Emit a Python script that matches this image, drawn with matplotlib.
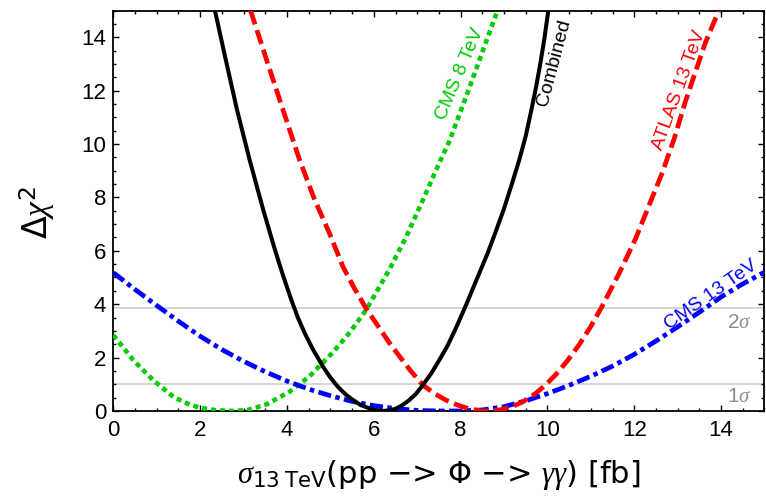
import matplotlib
matplotlib.use("Agg")
import matplotlib.pyplot as plt
from matplotlib.ticker import MultipleLocator

plt.rcParams['font.family'] = ['Liberation Sans', 'DejaVu Sans']
plt.rcParams['mathtext.fontset'] = 'custom'
plt.rcParams['mathtext.it'] = 'Liberation Serif:italic'
plt.rcParams['mathtext.rm'] = 'DejaVu Sans'
plt.rcParams['lines.scale_dashes'] = False

# Combined (black)
comb_x = [2.34, 2.59, 2.85, 3.14, 3.45, 3.72, 3.90, 4.10, 4.25, 4.41, 4.60, 4.83, 5.00, 5.17, 5.35, 5.52, 5.70, 5.90,
          6.05, 6.20, 6.35, 6.50, 6.66, 6.82, 6.98, 7.13, 7.32, 7.51, 7.70, 7.89, 8.12, 8.35, 8.62, 8.80, 9.00, 9.18,
          9.35, 9.50, 9.62, 9.74, 9.84, 9.93, 10.02]
comb_y = [15.0, 13.15, 11.27, 9.4, 7.55, 6.05, 5.12, 4.16, 3.5, 2.91, 2.3, 1.66, 1.25, 0.91, 0.62, 0.41, 0.22, 0.10,
          0.03, 0.0, 0.02, 0.08, 0.22, 0.41, 0.66, 0.97, 1.4, 1.91, 2.45, 3.1, 3.95, 4.85, 5.9, 6.68, 7.58, 8.5,
          9.4, 10.3, 11.2, 12.15, 13.05, 13.95, 15.0]

# ATLAS 13 TeV (red)
atl_x = [3.16, 3.53, 3.91, 4.29, 4.64, 4.98, 5.29, 5.55, 5.82, 6.13, 6.36, 6.59, 6.85, 7.13, 7.40, 7.66, 7.93, 8.20,
         8.45, 8.66, 8.90, 9.20, 9.45, 9.73, 9.96, 10.19, 10.45, 10.73, 11.00, 11.26, 11.65, 12.03, 12.34, 12.64,
         12.92, 13.18, 13.42, 13.64, 13.95]
atl_y = [15.0, 13.15, 11.27, 9.4, 7.9, 6.65, 5.4, 4.6, 3.85, 3.1, 2.55, 2.05, 1.5, 0.97, 0.65, 0.41, 0.22, 0.08,
         0.01, 0.0, 0.04, 0.17, 0.36, 0.66, 0.98, 1.36, 1.86, 2.48, 3.17, 3.92, 5.15, 6.45, 7.7, 8.9,
         10.2, 11.6, 12.75, 13.8, 15.0]

# CMS 8 TeV (green)
c8_x = [0.0, 0.46, 0.92, 1.38, 1.70, 1.99, 2.40, 2.76, 3.10, 3.53, 4.06, 4.52, 5.06, 5.45, 5.82, 6.36, 6.74, 7.13,
        7.51, 7.74, 8.20, 8.58, 8.85]
c8_y = [2.84, 1.9, 1.15, 0.53, 0.28, 0.12, 0.02, 0.0, 0.04, 0.25, 0.72, 1.3, 2.2, 2.95, 3.78, 5.3, 6.5, 7.9,
        9.3, 10.1, 12.1, 13.8, 15.0]

# CMS 13 TeV (blue)
c13_x = [0.0, 0.5, 1.0, 1.5, 2.0, 2.5, 3.0, 3.5, 4.0, 4.5, 5.0, 5.5, 6.0, 6.5, 7.0, 7.5, 8.0, 8.5, 9.0, 9.5,
         10.0, 10.5, 11.0, 11.5, 12.0, 12.5, 13.0, 13.5, 14.0, 14.5, 15.0]
c13_y = [5.18, 4.55, 3.95, 3.36, 2.8, 2.3, 1.86, 1.47, 1.12, 0.82, 0.57, 0.36, 0.2, 0.09, 0.02, 0.0, 0.0, 0.04,
         0.16, 0.38, 0.65, 0.96, 1.3, 1.68, 2.12, 2.62, 3.15, 3.7, 4.27, 4.76, 5.2]

sigma_levels = [1.0, 3.84]
sigma_labels = [r'1$\sigma$', r'2$\sigma$']

fig = plt.figure(figsize=(7.66, 4.99), dpi=100)
ax = fig.add_axes([0.148, 0.1764, 0.850, 0.8025])

for lv in sigma_levels:
    ax.axhline(lv, color='#d2d2d2', lw=1.3, zorder=1)

ax.plot(c8_x, c8_y, color='#00cc00', lw=3.3, linestyle=(0, (3.6, 2.9)), zorder=3)
ax.plot(c13_x, c13_y, color='#0000ff', lw=3.4, linestyle=(0, (9.5, 3.2, 3.2, 3.2)), zorder=3)
ax.plot(atl_x, atl_y, color='#ff0000', lw=3.4, linestyle=(0, (10.5, 4.3)), zorder=3)
ax.plot(comb_x, comb_y, color='black', lw=2.9, zorder=4, solid_joinstyle='round')

tk = dict(fontsize=14, ha='center', va='center', rotation_mode='anchor')
ax.text(7.99, 12.62, 'CMS 8 TeV', color='#00cc00', rotation=67, **tk)
ax.text(10.15, 13.03, 'Combined', color='black', rotation=75, **tk)
ax.text(13.03, 12.02, 'ATLAS 13 TeV', color='#ff0000', rotation=70, **tk)
ax.text(13.76, 4.34, 'CMS 13 TeV', color='#0000ff', rotation=35, **tk)

ax.text(14.41, 3.33, sigma_labels[1], color='#8c8c8c', fontsize=15, ha='center', va='center')
ax.text(14.41, 0.56, sigma_labels[0], color='#8c8c8c', fontsize=15, ha='center', va='center')

ax.set_xlim(0, 15)
ax.set_ylim(0, 15)
ax.xaxis.set_major_locator(MultipleLocator(2))
ax.xaxis.set_minor_locator(MultipleLocator(0.5))
ax.yaxis.set_major_locator(MultipleLocator(2))
ax.yaxis.set_minor_locator(MultipleLocator(0.5))
ax.tick_params(which='both', direction='in', top=True, right=True, labeltop=False, labelright=False, width=1.0)
ax.tick_params(which='major', length=4.5, labelsize=16)
ax.tick_params(axis='x', which='major', pad=6.5)
ax.tick_params(axis='y', which='major', pad=5.3)
ax.tick_params(which='minor', length=2.5)
for s in ax.spines.values():
    s.set_linewidth(1.3)

fig.text(439 / 766, 1 - 483 / 499, r'$\sigma_{\mathrm{13\ TeV}}$(pp −> Φ −> $\gamma\gamma$) [fb]',
         fontsize=22, ha='center', va='baseline', family='DejaVu Sans')
fig.text(37 / 766, 1 - 212 / 499, r'$\Delta\chi^2$', fontsize=24, ha='center', va='center', rotation=90)

fig.savefig('out.png', dpi=100)
